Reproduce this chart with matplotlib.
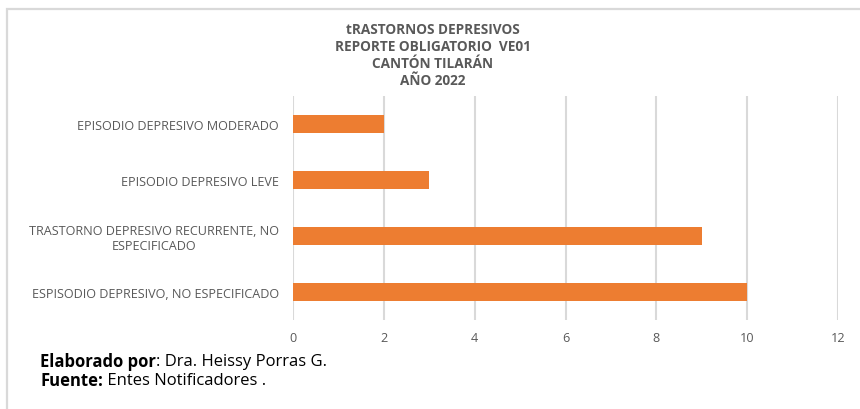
import matplotlib
matplotlib.use("Agg")
import matplotlib.pyplot as plt
from matplotlib.patches import Rectangle

categories = [
    "ESPISODIO DEPRESIVO, NO ESPECIFICADO",
    "TRASTORNO DEPRESIVO RECURRENTE, NO\nESPECIFICADO",
    "EPISODIO DEPRESIVO LEVE",
    "EPISODIO DEPRESIVO MODERADO",
]
values = [10, 9, 3, 2]
xticks = [0, 2, 4, 6, 8, 10, 12]
title_lines = ["tRASTORNOS DEPRESIVOS", "REPORTE OBLIGATORIO  VE01", "CANTÓN TILARÁN", "AÑO 2022"]
footer_bold = ["Elaborado por", "Fuente:"]
footer_rest = [": Dra. Heissy Porras G.", " Entes Notificadores ."]

plt.rcParams['font.family'] = ['Open Sans', 'DejaVu Sans']

fig = plt.figure(figsize=(8.6, 4.1), dpi=100)
fig.patch.set_facecolor('white')

# outer chart border
fig.add_artist(Rectangle((7/860, -0.1), 1.2, 1 - 10/410 + 0.1, transform=fig.transFigure,
                         fill=False, edgecolor='#d9d9d9', linewidth=1.6))

ax = fig.add_axes([293/860, 1 - 321/410, (838 - 293)/860, (321 - 97)/410])
y = range(len(categories))
ax.barh(y, values, height=0.31, color='#ed7d31', zorder=3)
ax.set_xlim(0, 12)
ax.set_ylim(-0.5, len(categories) - 0.5)
ax.set_xticks(xticks)
ax.set_xticklabels([str(t) for t in xticks])
ax.set_yticks(list(y))
ax.set_yticklabels(categories, multialignment='center')
ax.grid(axis='x', color='#d9d9d9', linewidth=1.5, zorder=0)
for s in ax.spines.values():
    s.set_visible(False)
ax.tick_params(axis='both', length=0, colors='#595959', labelsize=9.1)
ax.tick_params(axis='x', pad=8)
ax.tick_params(axis='y', pad=10)

ty = [30, 47, 64, 81]
for line, yy in zip(title_lines, ty):
    fig.text(433/860, 1 - yy/410, line, ha='center', va='center', fontsize=9.8,
             fontweight='bold', color='#595959')

fig.canvas.draw()
renderer = fig.canvas.get_renderer()
for b, r, yy in zip(footer_bold, footer_rest, [362, 381]):
    t = fig.text(40/860, 1 - yy/410, b, ha='left', va='center', fontsize=12,
                 fontweight='bold', color='black')
    bb = t.get_window_extent(renderer=renderer)
    fig.text(bb.x1 / fig.bbox.width, 1 - yy/410, r, ha='left', va='center', fontsize=12,
             color='black')

fig.savefig("out.png", dpi=100)
